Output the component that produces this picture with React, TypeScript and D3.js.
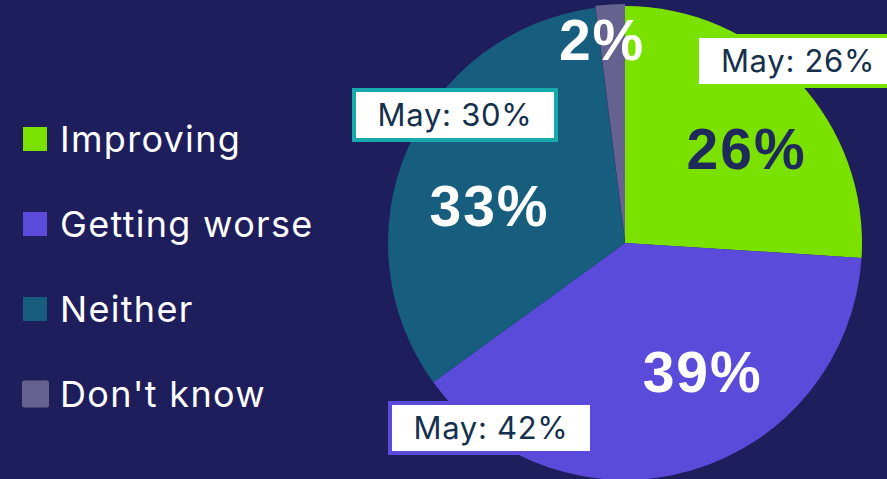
import React from "react";
import * as d3 from "d3";

const categories = ["Improving", "Getting worse", "Neither", "Don't know"];
const values = [26, 39, 33, 2];
const mayValues = [26, 42, 30, null];
const colors = ["#7be200", "#5a4bda", "#175d7e", "#66628f"];
const labelColors = ["#1f2a5c", "#ffffff", "#ffffff", "#ffffff"];
const boxBorders = ["#7be200", "#5a4bda", "#18a9ad", null];

const W = 887;
const H = 479;
const cx = 625;
const cy = 243;
const R = 237;
// label offsets relative to arc centroid
const labelOffsets = [[18, 3], [38, -8], [-5, 20], [-14, -61]];
// May box centres relative to pie centre
const boxOffsets = [[173, -182], [-134, 185], [-170, -128], null];

export default function App() {
  const pie = d3.pie<number>().sort(null).value((d) => d);
  const arcs = pie(values);
  const arc = d3.arc<d3.PieArcDatum<number>>().innerRadius(0).outerRadius(R);
  const labelArc = d3.arc<d3.PieArcDatum<number>>().innerRadius(R * 0.6).outerRadius(R * 0.6);
  const legendY = d3.scalePoint<string>().domain(categories).range([139, 394]);
  const bgColor = "#1f1e5c";
  return (
    <div>
      <style>{"body{margin:0;background:" + bgColor + "}"}</style>
      <svg width={W} height={H} style={{ display: "block", background: bgColor }}>
        <g transform={`translate(${cx},${cy})`}>
          {arcs.map((a, i) => (
            <path
              key={i}
              d={arc(a) || ""}
              fill={colors[i]}
              transform={i === 3 ? "translate(0,-2)" : undefined}
            />
          ))}
          {arcs.map((a, i) => {
            const [x, y] = labelArc.centroid(a);
            return (
              <text
                key={"l" + i}
                x={x + labelOffsets[i][0]}
                y={y + labelOffsets[i][1]}
                dy="0.35em"
                textAnchor="middle"
                fill={labelColors[i]}
                fontFamily="'Liberation Sans', Arial, sans-serif"
                fontWeight="bold"
                fontSize={57}
                letterSpacing={2}
              >
                {values[i]}%
              </text>
            );
          })}
          {mayValues.map((v, i) => {
            if (v === null || !boxOffsets[i]) return null;
            const [bx, by] = boxOffsets[i] as number[];
            const bw = 202;
            const bh = 50;
            return (
              <g key={"b" + i} transform={`translate(${bx},${by})`}>
                <rect
                  x={-bw / 2}
                  y={-bh / 2}
                  width={bw}
                  height={bh}
                  fill="#ffffff"
                  stroke={boxBorders[i] as string}
                  strokeWidth={4}
                />
                <text
                  x={0}
                  y={0}
                  dy="0.36em"
                  textAnchor="middle"
                  fill="#15304c"
                  fontFamily="Inter, 'Open Sans', sans-serif"
                  fontSize={31}
                  letterSpacing={0.7}
                >
                  May: {v}%
                </text>
              </g>
            );
          })}
        </g>
        <g>
          {categories.map((c, i) => {
            const y = legendY(c) as number;
            const s = i === 3 ? 27 : 24;
            return (
              <g key={"lg" + i}>
                <rect
                  x={i === 3 ? 22 : 23}
                  y={y - s / 2}
                  width={s}
                  height={s}
                  rx={i === 3 ? 2 : 0}
                  fill={colors[i]}
                />
                <text
                  x={60}
                  y={y}
                  dy="0.36em"
                  fill="#ffffff"
                  fontFamily="Inter, 'Open Sans', sans-serif"
                  fontSize={36}
                  letterSpacing={1.3}
                >
                  {c}
                </text>
              </g>
            );
          })}
        </g>
      </svg>
    </div>
  );
}
